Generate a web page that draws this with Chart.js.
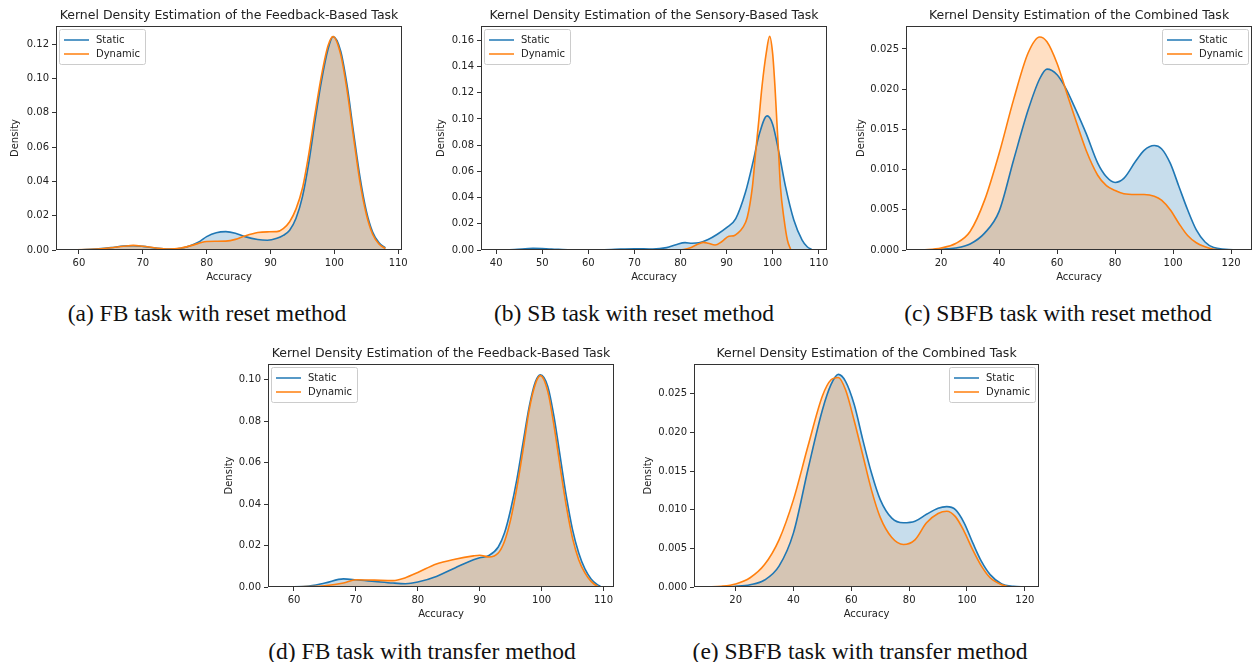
<!DOCTYPE html>
<html>
<head>
<meta charset="utf-8">
<script src="https://cdn.jsdelivr.net/npm/chart.js@4/dist/chart.umd.min.js"></script>
<style>
  html, body { margin: 0; padding: 0; background: #fff; overflow: hidden; }
  body { width: 1256px; height: 662px; position: relative; }
  .plot { position: absolute; }
  .caption {
    position: absolute; transform: translate(-50%, -50%); white-space: nowrap;
    font-family: "Liberation Serif", "Times New Roman", serif; font-size: 23.5px; color: #111;
  }
</style>
</head>
<body>
<canvas id="chartA" class="plot" width="412" height="290" style="left:0px;top:0px"></canvas>
<canvas id="chartB" class="plot" width="412" height="290" style="left:425px;top:0px"></canvas>
<canvas id="chartC" class="plot" width="412" height="290" style="left:850px;top:0px"></canvas>
<canvas id="chartD" class="plot" width="412" height="289" style="left:212px;top:338px"></canvas>
<canvas id="chartE" class="plot" width="411" height="289" style="left:638px;top:338px"></canvas>

<div class="caption" style="left:207px;top:313px">(a) FB task with reset method</div>
<div class="caption" style="left:634px;top:313px">(b) SB task with reset method</div>
<div class="caption" style="left:1058px;top:313px">(c) SBFB task with reset method</div>
<div class="caption" style="left:422px;top:651px">(d) FB task with transfer method</div>
<div class="caption" style="left:860px;top:651px">(e) SBFB task with transfer method</div>

<script>
// (a) FB task, reset method
const fbResetAcc = [59, 61, 63, 65, 67, 68.5, 70, 72, 74, 76, 78, 79, 80, 81.5, 83, 84.5, 86, 88, 89.5, 91, 92, 93, 94, 95, 96, 97, 98, 99, 99.8, 101, 102, 103, 104, 105, 106, 107, 108];
const fbResetStatic = [0, 0.0002, 0.0007, 0.0014, 0.0023, 0.0025, 0.0021, 0.0011, 0.0005, 0.0010, 0.0034, 0.0052, 0.0078, 0.0101, 0.0107, 0.0098, 0.0078, 0.0061, 0.0057, 0.0068, 0.0085, 0.0115, 0.0185, 0.031, 0.051, 0.076, 0.099, 0.117, 0.1245, 0.116, 0.096, 0.069, 0.043, 0.023, 0.0105, 0.0042, 0.0012];
const fbResetDynamic = [0, 0.0002, 0.0006, 0.0013, 0.0022, 0.0027, 0.0022, 0.0012, 0.0006, 0.0012, 0.0030, 0.0042, 0.0050, 0.0051, 0.0052, 0.0062, 0.0082, 0.0102, 0.0106, 0.0107, 0.0125, 0.0165, 0.024, 0.036, 0.056, 0.080, 0.102, 0.119, 0.1245, 0.114, 0.093, 0.066, 0.040, 0.021, 0.0092, 0.0035, 0.0008];

// (b) SB task, reset method (the two curves were read on different grids)
const sbResetStaticAcc = [40, 44, 48, 52, 56, 60, 65, 70, 74, 77, 79, 81, 82.5, 84, 86, 88, 90, 92, 94.1, 95.8, 97, 98.8, 100, 101.4, 102.8, 104.6, 106.4, 107.5, 108.5];
const sbResetStatic = [0, 0.0004, 0.0013, 0.0008, 0.0002, 0.0001, 0.0004, 0.0010, 0.0007, 0.0018, 0.0040, 0.0056, 0.0052, 0.0055, 0.0080, 0.0120, 0.0170, 0.0240, 0.044, 0.068, 0.087, 0.1023, 0.0960, 0.0738, 0.0483, 0.0229, 0.0076, 0.0025, 0.0003];
const sbResetDynamicAcc = [80, 82, 84, 85, 86, 87.5, 89, 90.5, 91.5, 92.5, 93.5, 94.5, 95.6, 96.3, 97, 97.7, 98.6, 99.35, 100, 100.5, 100.9, 101.3, 101.7, 102.5, 103.2, 103.9];
const sbResetDynamic = [0, 0.0015, 0.0048, 0.0058, 0.0052, 0.0038, 0.0065, 0.0105, 0.0108, 0.013, 0.017, 0.025, 0.048, 0.074, 0.099, 0.125, 0.150, 0.163, 0.150, 0.125, 0.099, 0.074, 0.048, 0.023, 0.0076, 0.0005];

// (c) SBFB task, reset method
const sbfbResetAcc = [13.5, 20, 25, 30, 35, 40, 45, 50, 54, 56.5, 60, 63, 66, 70, 74, 77, 80, 83, 87, 90, 93.5, 96, 99, 102, 105, 108, 111, 114, 118, 122];
const sbfbResetStatic = [0, 0.0001, 0.00025, 0.00075, 0.0021, 0.0048, 0.0112, 0.0174, 0.0213, 0.0225, 0.0218, 0.0201, 0.0178, 0.0145, 0.0108, 0.0091, 0.0084, 0.0089, 0.011, 0.0124, 0.0130, 0.0126, 0.0108, 0.0079, 0.005, 0.0025, 0.001, 0.0003, 0.0001, 0];
const sbfbResetDynamic = [0, 0.00025, 0.0008, 0.0023, 0.0062, 0.012, 0.0187, 0.0245, 0.0265, 0.0259, 0.0232, 0.0199, 0.0166, 0.0124, 0.0093, 0.0080, 0.0074, 0.0070, 0.0069, 0.0069, 0.0067, 0.0062, 0.0050, 0.0033, 0.0018, 0.0009, 0.0004, 0.0001, 0, 0];

// (d) FB task, transfer method
const fbTransferAcc = [58, 62, 65, 68, 70, 73, 76, 78, 80, 83, 86, 89, 90, 91.5, 93, 94, 95, 96, 97, 98, 99, 99.8, 101, 102, 103, 104, 105, 106, 107, 108, 109, 109.5];
const fbTransferStatic = [0, 0.0003, 0.0019, 0.0039, 0.0035, 0.0027, 0.0019, 0.0016, 0.0024, 0.0051, 0.0092, 0.0132, 0.0141, 0.0152, 0.0193, 0.026, 0.0373, 0.0518, 0.0695, 0.087, 0.099, 0.1024, 0.0968, 0.0823, 0.063, 0.0437, 0.0277, 0.0164, 0.0087, 0.0039, 0.0011, 0.0004];
const fbTransferDynamic = [0, 0.0002, 0.0006, 0.0019, 0.0035, 0.0033, 0.0031, 0.0045, 0.0070, 0.0111, 0.0134, 0.0150, 0.0153, 0.0145, 0.0164, 0.022, 0.0325, 0.0478, 0.066, 0.0855, 0.098, 0.1020, 0.0944, 0.078, 0.058, 0.039, 0.0236, 0.0132, 0.0068, 0.0027, 0.0004, 0];

// (e) SBFB task, transfer method
const sbfbTransferAcc = [10, 15, 20, 25, 30, 35, 40, 45, 50, 53, 55.5, 58, 61, 64, 67, 70, 74, 78, 82, 86, 90, 93, 96, 99, 102, 105, 108, 112, 116, 120];
const sbfbTransferStatic = [0, 0.00003, 0.0001, 0.0003, 0.0009, 0.0027, 0.007, 0.0152, 0.0229, 0.0262, 0.0275, 0.0266, 0.0236, 0.019, 0.0147, 0.0113, 0.0089, 0.0083, 0.0085, 0.0094, 0.0102, 0.0104, 0.010, 0.0083, 0.0057, 0.0033, 0.0016, 0.0004, 0.0001, 0];
const sbfbTransferDynamic = [0, 0.0001, 0.0004, 0.0012, 0.0029, 0.0061, 0.0113, 0.0182, 0.0247, 0.0268, 0.0271, 0.0255, 0.0215, 0.0170, 0.0125, 0.0090, 0.0064, 0.0055, 0.0061, 0.0083, 0.0095, 0.0098, 0.0091, 0.0072, 0.0048, 0.0027, 0.0012, 0.0003, 0, 0];

// tick values
const ticks60to110 = [60, 70, 80, 90, 100, 110];
const ticks40to110 = [40, 50, 60, 70, 80, 90, 100, 110];
const ticks20to120 = [20, 40, 60, 80, 100, 120];
const densityTicks012 = [0, 0.02, 0.04, 0.06, 0.08, 0.10, 0.12];
const densityTicks016 = [0, 0.02, 0.04, 0.06, 0.08, 0.10, 0.12, 0.14, 0.16];
const densityTicks010 = [0, 0.02, 0.04, 0.06, 0.08, 0.10];
const densityTicks0025 = [0, 0.005, 0.010, 0.015, 0.020, 0.025];

const titleFB = 'Kernel Density Estimation of the Feedback-Based Task';
const titleSB = 'Kernel Density Estimation of the Sensory-Based Task';
const titleSBFB = 'Kernel Density Estimation of the Combined Task';

const blue = '#1f77b4';
const orange = '#ff7f0e';
const axisColor = '#333';
const textColor = '#222';
const fontFamily = '"DejaVu Sans", sans-serif';

function toPoints(xs, ys) {
    return xs.map((x, i) => ({x: x, y: ys[i]}));
}

// matplotlib style box around the whole axes
const framePlugin = {
    id: 'frame',
    afterDatasetsDraw(chart) {
        const {ctx, chartArea: a} = chart;
        ctx.save();
        ctx.strokeStyle = axisColor;
        ctx.lineWidth = 1;
        ctx.strokeRect(Math.round(a.left) + 0.5, Math.round(a.top) + 0.5,
            Math.round(a.right - a.left) - 1, Math.round(a.bottom - a.top) - 1);
        ctx.restore();
    }
};

// legend drawn inside the axes, like the seaborn one
const innerLegendPlugin = {
    id: 'innerLegend',
    afterDraw(chart, args, opts) {
        const {ctx, chartArea: a} = chart;
        const sets = chart.data.datasets;
        ctx.save();
        ctx.font = '10px ' + fontFamily;
        const textW = Math.max(...sets.map(d => ctx.measureText(d.label).width));
        const w = Math.round(37 + textW + 5);
        const h = 35;
        const x = opts.side === 'right' ? Math.round(a.right) - 4 - w : Math.round(a.left) + 3;
        const y = Math.round(a.top) + 3;

        ctx.beginPath();
        ctx.roundRect(x + 0.5, y + 0.5, w, h, 2);
        ctx.fillStyle = 'rgba(255,255,255,0.8)';
        ctx.fill();
        ctx.strokeStyle = '#cccccc';
        ctx.lineWidth = 1;
        ctx.stroke();

        sets.forEach((d, i) => {
            const cy = y + 11 + i * 14;
            ctx.strokeStyle = d.borderColor;
            ctx.lineWidth = 1.5;
            ctx.beginPath();
            ctx.moveTo(x + 5, cy);
            ctx.lineTo(x + 30, cy);
            ctx.stroke();
            ctx.fillStyle = textColor;
            ctx.textBaseline = 'middle';
            ctx.fillText(d.label, x + 37, cy + 0.5);
        });
        ctx.restore();
    }
};

function buildChart(canvasId, cfg) {
    const tickFont = {family: fontFamily, size: 10};
    new Chart(document.getElementById(canvasId), {
        type: 'line',
        data: {
            datasets: [{
                label: 'Static',
                data: toPoints(cfg.staticX, cfg.staticY),
                borderColor: blue,
                backgroundColor: 'rgba(31,119,180,0.25)',
                fill: 'origin',
                order: 2
            }, {
                label: 'Dynamic',
                data: toPoints(cfg.dynamicX, cfg.dynamicY),
                borderColor: orange,
                backgroundColor: 'rgba(255,127,14,0.25)',
                fill: 'origin',
                order: 1
            }]
        },
        options: {
            responsive: false,
            animation: false,
            layout: {padding: {left: 0, top: 0, right: 10, bottom: 0}, autoPadding: false},
            elements: {
                point: {radius: 0, hoverRadius: 0},
                line: {borderWidth: 1.6, cubicInterpolationMode: 'monotone'}
            },
            plugins: {
                legend: {display: false},
                tooltip: {enabled: false},
                filler: {drawTime: 'beforeDatasetsDraw'},
                title: {
                    display: true,
                    text: cfg.title,
                    fullSize: false,
                    color: textColor,
                    font: {family: fontFamily, size: 12.5, weight: 'normal'},
                    padding: {top: 8.5, bottom: 2.5}
                },
                innerLegend: {side: cfg.legendSide}
            },
            scales: {
                x: {
                    type: 'linear',
                    min: cfg.xMin,
                    max: cfg.xMax,
                    afterBuildTicks: s => { s.ticks = cfg.xTicks.map(v => ({value: v})); },
                    afterFit: s => { s.height = 40; },
                    ticks: {color: textColor, font: tickFont, padding: 3, maxRotation: 0, autoSkip: false},
                    grid: {display: true, drawOnChartArea: false, drawTicks: true, tickLength: 4, color: axisColor},
                    border: {display: false},
                    title: {display: true, text: 'Accuracy', color: textColor, font: tickFont, padding: {top: 0, bottom: 7}}
                },
                y: {
                    min: 0,
                    max: cfg.yMax,
                    afterBuildTicks: s => { s.ticks = cfg.yTicks.map(v => ({value: v})); },
                    afterFit: s => { s.width = cfg.yAxisWidth; },
                    ticks: {color: textColor, font: tickFont, padding: 3, callback: v => v.toFixed(cfg.yDecimals)},
                    grid: {display: true, drawOnChartArea: false, drawTicks: true, tickLength: 4, color: axisColor},
                    border: {display: false},
                    title: {display: true, text: 'Density', color: textColor, font: tickFont, padding: {top: cfg.yTitlePad, bottom: 0}}
                }
            }
        },
        plugins: [framePlugin, innerLegendPlugin]
    });
}

buildChart('chartA', {
    title: titleFB, legendSide: 'left',
    staticX: fbResetAcc, staticY: fbResetStatic, dynamicX: fbResetAcc, dynamicY: fbResetDynamic,
    xMin: 56.4, xMax: 110.6, xTicks: ticks60to110,
    yMax: 0.1307, yTicks: densityTicks012, yDecimals: 2,
    yAxisWidth: 56, yTitlePad: 9
});

buildChart('chartB', {
    title: titleSB, legendSide: 'left',
    staticX: sbResetStaticAcc, staticY: sbResetStatic, dynamicX: sbResetDynamicAcc, dynamicY: sbResetDynamic,
    xMin: 36.7, xMax: 111.8, xTicks: ticks40to110,
    yMax: 0.1709, yTicks: densityTicks016, yDecimals: 2,
    yAxisWidth: 56, yTitlePad: 10.7
});

buildChart('chartC', {
    title: titleSBFB, legendSide: 'right',
    staticX: sbfbResetAcc, staticY: sbfbResetStatic, dynamicX: sbfbResetAcc, dynamicY: sbfbResetDynamic,
    xMin: 7.9, xMax: 127.2, xTicks: ticks20to120,
    yMax: 0.02786, yTicks: densityTicks0025, yDecimals: 3,
    yAxisWidth: 56, yTitlePad: 5
});

buildChart('chartD', {
    title: titleFB, legendSide: 'left',
    staticX: fbTransferAcc, staticY: fbTransferStatic, dynamicX: fbTransferAcc, dynamicY: fbTransferDynamic,
    xMin: 55.8, xMax: 111.7, xTicks: ticks60to110,
    yMax: 0.1076, yTicks: densityTicks010, yDecimals: 2,
    yAxisWidth: 56, yTitlePad: 11
});

buildChart('chartE', {
    title: titleSBFB, legendSide: 'right',
    staticX: sbfbTransferAcc, staticY: sbfbTransferStatic, dynamicX: sbfbTransferAcc, dynamicY: sbfbTransferDynamic,
    xMin: 5.6, xMax: 124.9, xTicks: ticks20to120,
    yMax: 0.02884, yTicks: densityTicks0025, yDecimals: 3,
    yAxisWidth: 56, yTitlePad: 4
});
</script>
</body>
</html>
